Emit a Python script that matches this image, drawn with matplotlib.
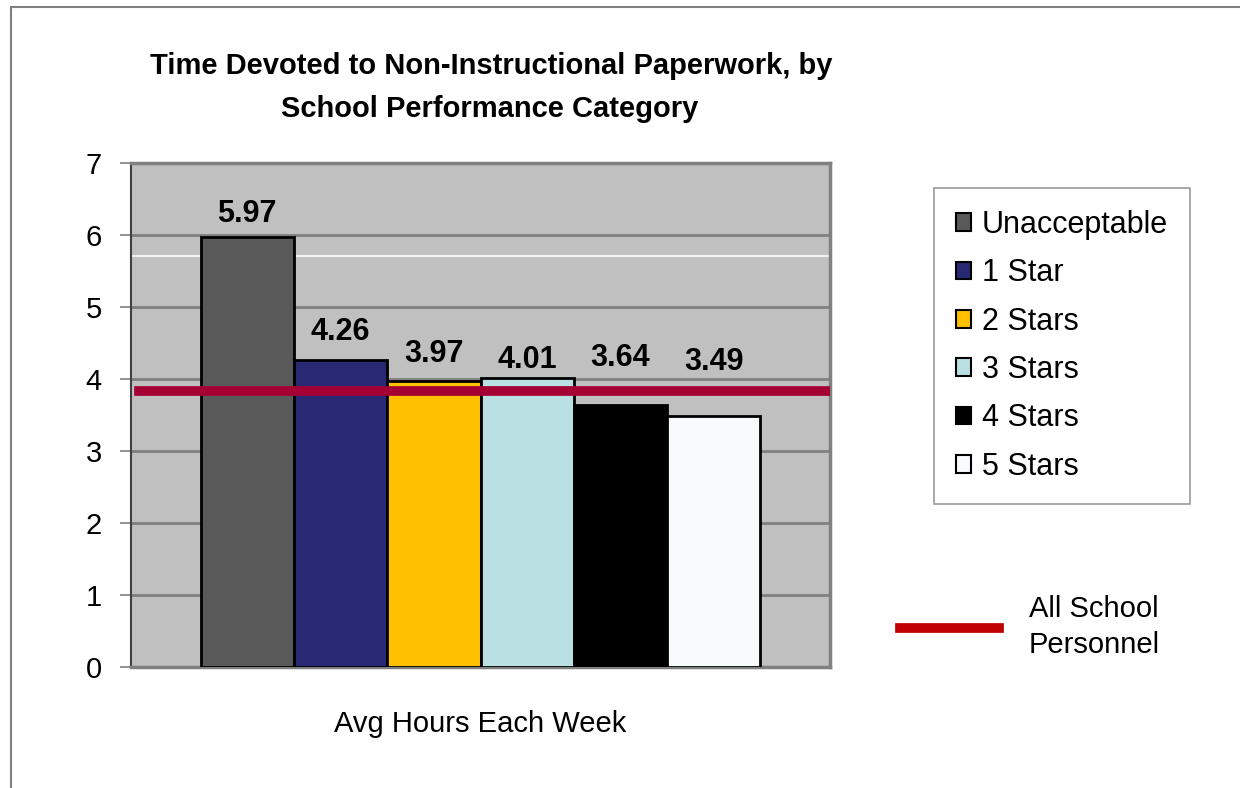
import matplotlib
matplotlib.use("Agg")
import matplotlib.pyplot as plt
from matplotlib.patches import Patch, Rectangle
from matplotlib.lines import Line2D

# chart data
categories = ["Unacceptable", "1 Star", "2 Stars", "3 Stars", "4 Stars", "5 Stars"]
hours = [5.97, 4.26, 3.97, 4.01, 3.64, 3.49]
all_personnel = 3.83
white_line = 5.71
bar_colors = ["#595959", "#282873", "#FFC000", "#BBE0E3", "#000000", "#F7FBFC"]
y_ticks = [0, 1, 2, 3, 4, 5, 6, 7]

# label baseline distance above each bar top, in points (labels were hand-placed)
label_offsets = [11, 14.5, 14, 7.5, 28, 33]

plt.rcParams["font.family"] = ["Liberation Sans", "DejaVu Sans"]

fig = plt.figure(figsize=(12.4, 7.88), dpi=100)
fig.patch.set_facecolor("white")

# outer chart border (only left and top visible)
fig.patches.append(Rectangle((11 / 1240, -0.1), 1.2, 1.1 - 7 / 788,
                             transform=fig.transFigure, fill=False,
                             edgecolor="#808080", linewidth=1.5))

ax = fig.add_axes([131 / 1240, 1 - 667 / 788, 699 / 1240, 504 / 788])
ax.set_facecolor("#C0C0C0")

n = len(categories)
xs = [i - (n - 1) / 2 for i in range(n)]
bars = ax.bar(xs, hours, width=1.0, color=bar_colors, edgecolor="black",
              linewidth=2, zorder=3)

for x, v, off in zip(xs, hours, label_offsets):
    ax.annotate("%.2f" % v, (x, v), xytext=(0, off), textcoords="offset points",
                ha="center", va="baseline", fontsize=22, fontweight="bold", zorder=5)

ax.axhline(white_line, color="white", linewidth=1.2, zorder=2)
ax.axhline(all_personnel, xmin=0.012, xmax=0.997, color="#A50034",
           linewidth=7, zorder=4)

ax.set_xlim(-3.745, 3.745)
ax.set_ylim(0, 7)
ax.set_yticks(y_ticks)
ax.set_xticks([])
ax.yaxis.grid(True, color="#808080", linewidth=2, zorder=1)
ax.set_axisbelow(True)
ax.tick_params(axis="y", labelsize=21, length=8, width=1.2, color="#808080", pad=13)
for side in ["top", "right", "bottom"]:
    ax.spines[side].set_color("#808080")
    ax.spines[side].set_linewidth(2.5)
ax.spines["left"].set_color("#404040")
ax.spines["left"].set_linewidth(1.5)

ax.set_xlabel("Avg Hours Each Week", fontsize=21, labelpad=31)

fig.text(491 / 1240, 1 - 74 / 788, "Time Devoted to Non-Instructional Paperwork, by",
         ha="center", va="baseline", fontsize=21, fontweight="bold")
fig.text(490 / 1240, 1 - 117 / 788, "School Performance Category",
         ha="center", va="baseline", fontsize=21, fontweight="bold")

handles = [Patch(facecolor=c, edgecolor="black", linewidth=1.5) for c in bar_colors]
leg = fig.legend(handles, categories, loc="upper left",
                 bbox_to_anchor=(934 / 1240, 1 - 188 / 788), borderaxespad=0,
                 fontsize=22, frameon=True, fancybox=False, edgecolor="#808080",
                 handlelength=0.5, handleheight=0.5, handletextpad=0.35,
                 labelspacing=0.6, borderpad=0.72)
leg.get_frame().set_linewidth(1.2)

line_handle = Line2D([0], [0], color="#C00000", linewidth=7)
leg2 = fig.legend([line_handle], ["All School\nPersonnel"], loc="center left",
                  bbox_to_anchor=(900 / 1240, 1 - 627 / 788), borderaxespad=0,
                  borderpad=0, fontsize=21, frameon=False, handlelength=3.4,
                  handletextpad=1.0)
for t in leg2.get_texts():
    t.set_multialignment("center")
    t.set_linespacing(1.35)

fig.savefig("out.png", dpi=100, facecolor="white")
